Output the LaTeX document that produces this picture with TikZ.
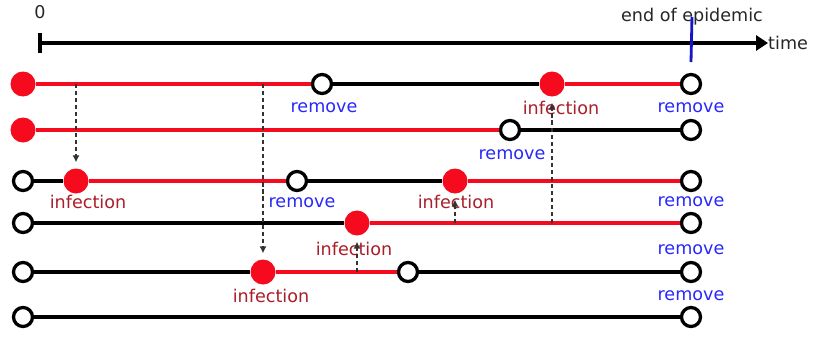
\documentclass[tikz,border=0pt]{standalone}
\usepackage{fontspec}
\setmainfont{DejaVu Sans}
\usetikzlibrary{arrows.meta,calc}
\definecolor{infred}{RGB}{245,10,30}
\definecolor{inftext}{RGB}{170,30,40}
\definecolor{remblue}{RGB}{40,40,250}
\definecolor{endblue}{RGB}{20,20,200}
\begin{document}
\begin{tikzpicture}[
	x=0.03cm, y=-0.03cm,
	font=\fontsize{15}{18}\selectfont,
	inf/.style = {circle, fill=infred, inner sep=0pt, minimum size=0.75cm},
	sus/.style = {circle, draw, line width=2.8pt, fill=white, inner sep=0pt, minimum size=0.57cm},
	ill/.style = {draw=infred, line width=2.8pt},
	well/.style = {draw, line width=2.8pt},
	rem/.style = {text=remblue, inner sep=0pt},
	infl/.style = {text=inftext, inner sep=0pt},
	spread/.style = {draw=black!80, line width=1.4pt, dash pattern=on 3.5pt off 2.5pt,
		-{Latex[length=6pt,width=6pt]}, shorten >=5pt},
	]
	\useasboundingbox (0,0) rectangle (813,336);
	% time axis
	\node[inner sep=0pt, text=black!85] (zero) at (40,12) {0};
	\node[inner sep=0pt, text=black!85] (eoe) at (692,17) {end of epidemic};
	\node[inner sep=0pt, anchor=west, text=black!85] (time) at (768,43) {time};
	\coordinate (tstart) at (38,43);
	\draw[line width=3.2pt, {Bar[width=0.57cm]}-{Triangle[length=0.36cm,width=0.45cm]}] (tstart) -- (time.west);
	\coordinate (eoebot) at (691,62);
	\draw[endblue, line width=2.4pt] (eoe.center) -- (eoebot);
	% row 1
	\node[inf] (r1s) at (23,84) {};
	\node[sus] (r1r) at (322,84) {};
	\node[inf] (r1i) at (552,84) {};
	\node[sus] (r1e) at (691,84) {};
	\draw[ill] (r1s) -- (r1r);
	\draw[well] (r1r) -- (r1i);
	\draw[ill] (r1i) -- (r1e);
	\node[rem] (l1a) at ($(r1r)+(2,24)$) {remove};
	\node[infl] (l1b) at ($(r1i)+(9,24)$) {infection};
	\node[rem] (l1c) at ($(r1e)+(0,24)$) {remove};
	% row 2
	\node[inf] (r2s) at (23,130) {};
	\node[sus] (r2r) at (510,130) {};
	\node[sus] (r2e) at (691,130) {};
	\draw[ill] (r2s) -- (r2r);
	\draw[well] (r2r) -- (r2e);
	\node[rem] (l2a) at ($(r2r)+(2,25)$) {remove};
	% row 3
	\node[sus] (r3s) at (23,181) {};
	\node[inf] (r3i) at (76,181) {};
	\node[sus] (r3r) at (297,181) {};
	\node[inf] (r3j) at (455,181) {};
	\node[sus] (r3e) at (691,181) {};
	\draw[well] (r3s) -- (r3i);
	\draw[ill] (r3i) -- (r3r);
	\draw[well] (r3r) -- (r3j);
	\draw[ill] (r3j) -- (r3e);
	\node[infl] (l3a) at ($(r3i)+(12,21)$) {infection};
	\node[rem] (l3b) at ($(r3r)+(5,22)$) {remove};
	\node[infl] (l3c) at ($(r3j)+(1,21)$) {infection};
	\node[rem] (l3d) at ($(r3e)+(0,21)$) {remove};
	% row 4
	\node[sus] (r4s) at (23,223) {};
	\node[inf] (r4i) at (357,223) {};
	\node[sus] (r4e) at (691,223) {};
	\draw[well] (r4s) -- (r4i);
	\draw[ill] (r4i) -- (r4e);
	\node[infl] (l4a) at ($(r4i)+(-3,26)$) {infection};
	\node[rem] (l4b) at ($(r4e)+(0,27)$) {remove};
	% row 5
	\node[sus] (r5s) at (23,272) {};
	\node[inf] (r5i) at (263,272) {};
	\node[sus] (r5r) at (408,272) {};
	\node[sus] (r5e) at (691,272) {};
	\draw[well] (r5s) -- (r5i);
	\draw[ill] (r5i) -- (r5r);
	\draw[well] (r5r) -- (r5e);
	\node[infl] (l5a) at ($(r5i)+(8,24)$) {infection};
	\node[rem] (l5b) at ($(r5e)+(0,24)$) {remove};
	% row 6
	\node[sus] (r6s) at (23,317) {};
	\node[sus] (r6e) at (691,317) {};
	\draw[well] (r6s) -- (r6e);
	% contacts
	\draw[spread] (r3i |- r1s) -- (r3i);
	\draw[spread] (r5i |- r1s) -- (r5i);
	\draw[spread] (r3j |- r4s) -- (r3j);
	\draw[spread] (r4i |- r5s) -- (r4i);
	\draw[spread] (r1i |- r4s) -- (r1i);
\end{tikzpicture}
\end{document}
